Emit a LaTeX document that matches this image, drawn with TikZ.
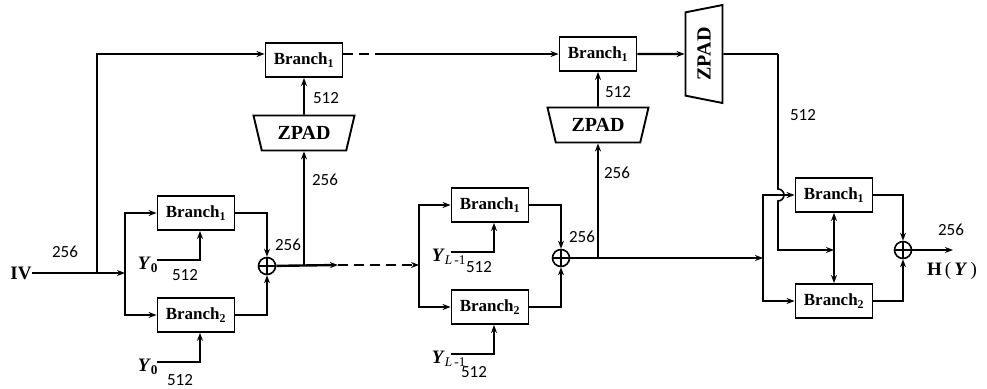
\documentclass[tikz,border=0pt]{standalone}
\usepackage{fontspec}
\setmainfont{Liberation Serif}
\newfontfamily\numfont{Carlito}
\usetikzlibrary{arrows.meta,shapes.geometric}

\tikzset{
  blk/.style={draw, line width=1.9pt, minimum width=77pt, minimum height=34pt, inner sep=0pt,
    font=\fontsize{17}{18}\selectfont\bfseries},
  sum/.style={circle, draw, minimum size=17pt, inner sep=0pt,
    path picture={\draw (path picture bounding box.north) -- (path picture bounding box.south)
      (path picture bounding box.west) -- (path picture bounding box.east);}},
  zpad/.style={trapezium, draw, line width=1.9pt, trapezium stretches body, trapezium angle=58,
    minimum width=101pt, minimum height=35pt, inner sep=0pt, font=\fontsize{20}{22}\selectfont\bfseries},
  num/.style={font=\numfont\fontsize{17}{18}\selectfont, inner sep=0pt},
  lbl/.style={font=\fontsize{19}{21}\selectfont, inner sep=0pt},
  main/.style={line width=2.4pt},
  dsh/.style={dash pattern=on 10pt off 6pt}
}

\begin{document}
\begin{tikzpicture}[x=1pt, y=-1pt, line width=1.6pt, >={Stealth[length=8pt,width=6pt]}]
\useasboundingbox (0,0) rectangle (987,388);
% two branch groups
\foreach \dx/\dy/\g/\yl in {0/0/a/{\textsubscript{\textbf{0}}}, 294/-8/b/{\textsubscript{\textit{L}\,-1}}}{
\begin{scope}[shift={(\dx,\dy)}]
  \node[blk] (\g-br1) at (196,213) {Branch\textsubscript{1}};
  \node[blk] (\g-br2) at (196,315) {Branch\textsubscript{2}};
  \node[sum] (\g-sum) at (267,266) {};
  \coordinate (\g-in) at (125,273);
  \coordinate (\g-ya) at (157,260);
  \coordinate (\g-yb) at (157,362);
  \node[lbl, anchor=north west] (\g-yla) at (137,256) {\textbf{\textit{Y}}\yl};
  \node[lbl, anchor=north west] (\g-ylb) at (137,358) {\textbf{\textit{Y}}\yl};
  \node[num] (\g-n1) at (185,275) {512};
  \node[num] (\g-n2) at (180,380) {512};
  \node[num] (\g-n3) at (288,245) {256};
  \draw[main,->] (\g-in) |- (\g-br1);
  \draw[main,->] (\g-in) |- (\g-br2);
  \draw[main,->] (\g-ya) -| ([xshift=4pt]\g-br1.south);
  \draw[main,->] (\g-yb) -| ([xshift=4pt]\g-br2.south);
  \draw[->] (\g-br1) -| (\g-sum);
  \draw[->] (\g-br2) -| (\g-sum);
\end{scope}
}
% input
\node[lbl, font=\fontsize{19}{21}\selectfont\bfseries] (iv) at (21,273) {IV};
\node[num] (n256) at (65,252) {256};
\coordinate (j0) at (97,273);
\draw[main,->] (iv) -- (a-in);
% top row
\node[blk] (bt1) at (304,60) {Branch\textsubscript{1}};
\node[zpad, shape border rotate=180] (zp1) at (304,133) {ZPAD};
\node[blk] (bt2) at (598,54) {Branch\textsubscript{1}};
\node[zpad, shape border rotate=180] (zp2) at (598,125) {ZPAD};
\node[zpad, shape border rotate=90, minimum width=98pt, minimum height=37pt,
  trapezium angle=61] (zp3) at (704,54) {\rotatebox{90}{ZPAD}};
\node[num] (t1) at (326,98) {512};
\node[num] (t2) at (325,180) {256};
\node[num] (t3) at (618,92) {512};
\node[num] (t4) at (617,173) {256};
\coordinate (d1) at (383,54);
\draw[main,->] (j0) |- ([yshift=6pt]bt1.west);
\draw[main,dsh] ([yshift=6pt]bt1.east) -- (d1);
\draw[main,->] (d1) -- (bt2);
\draw[main,->] (bt2) -- (zp3);
% middle row
\coordinate (j1) at (304,266);
\coordinate (d2) at (338,265);
\coordinate (j2) at (598,258);
\coordinate (c-in) at (763,258);
\draw[main,->] (a-sum) -- (d2);
\draw[main,dsh,->] (d2) -- (b-in);
\draw[main,->] (b-sum) -- (c-in);
\draw[->] (j1) -- (zp1);
\draw[->] (zp1) -- (bt1);
\draw[->] (j2) -- (zp2);
\draw[->] (zp2) -- (bt2);
% right group
\node[blk] (r1) at (834,195) {Branch\textsubscript{1}};
\node[blk] (r2) at (834,301) {Branch\textsubscript{2}};
\node[sum] (s3) at (903,250) {};
\node[num] (t5) at (803,115) {512};
\node[num] (t6) at (951,230) {256};
\node[lbl, anchor=north] (hy) at (952,262) {\textbf{H}\,(\,\textbf{\textit{Y}}\,)};
\coordinate (k1) at (778,54);
\coordinate (h1) at (778,189);
\coordinate (k2) at (778,250);
\coordinate (m) at (834,250);
\coordinate (out) at (953,250);
\draw (zp3) -- (k1);
\draw[->] (k1) -- (h1) arc[start angle=-90, end angle=90, radius=6] -- (k2) -- (m);
\draw[->] (c-in) |- (r1);
\draw[->] (c-in) |- (r2);
\draw[main,<->] (r1) -- (r2);
\draw[->] (r1) -| (s3);
\draw[->] (r2) -| (s3);
\draw[main,->] (s3) -- (out);
\end{tikzpicture}
\end{document}
